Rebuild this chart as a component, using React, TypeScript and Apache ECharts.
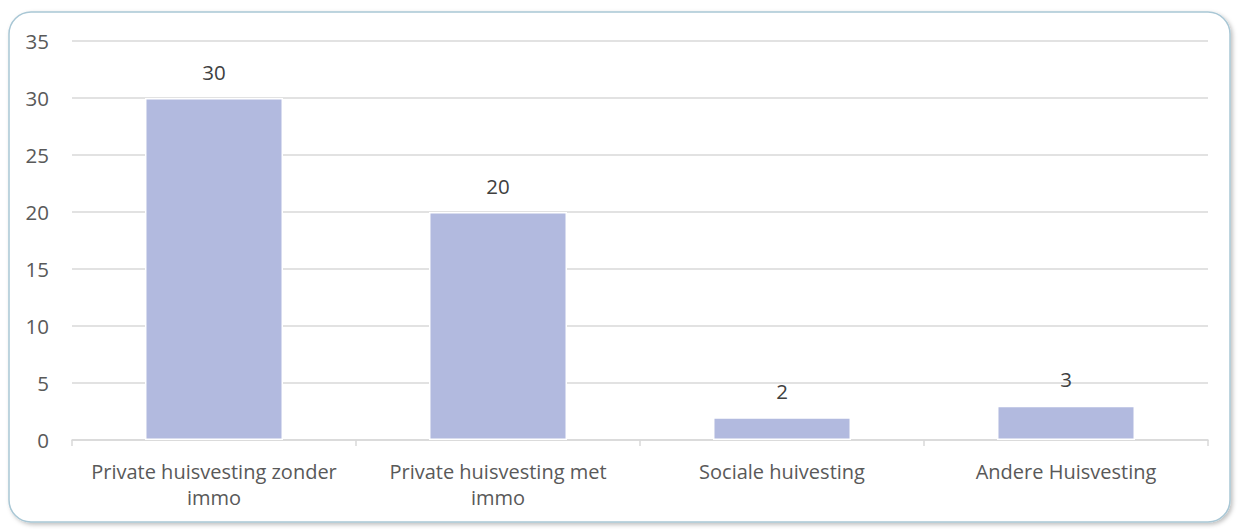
import React, { useEffect, useRef } from "react";
import * as echarts from "echarts";

const categories = [
  "Private huisvesting zonder immo",
  "Private huisvesting met immo",
  "Sociale huivesting",
  "Andere Huisvesting",
];
const values = [30, 20, 2, 3];
const wrapped: Record<string, string> = {
  "Private huisvesting zonder immo": "Private huisvesting zonder\nimmo",
  "Private huisvesting met immo": "Private huisvesting met\nimmo",
};

export default function App() {
  const ref = useRef<HTMLDivElement>(null);
  useEffect(() => {
    if (!ref.current) return;
    const chart = echarts.init(ref.current, null, { renderer: "svg" });
    const font = "'Open Sans', 'Noto Sans', sans-serif";
    chart.setOption({
      animation: false,
      backgroundColor: "#ffffff",
      textStyle: { fontFamily: font },
      graphic: [
        {
          type: "rect",
          shape: { x: 9, y: 12, width: 1221, height: 510, r: 22 },
          style: {
            fill: "#ffffff",
            stroke: "#A9C7D5",
            lineWidth: 1.5,
            shadowBlur: 4,
            shadowOffsetX: 2,
            shadowOffsetY: 2,
            shadowColor: "rgba(0,0,0,0.25)",
          },
          z: -10,
          silent: true,
        },
      ],
      grid: { left: 72, right: 31, top: 41, bottom: 89, containLabel: false },
      xAxis: {
        type: "category",
        data: categories,
        axisLine: { lineStyle: { color: "#D9D9D9", width: 1.5 } },
        axisTick: { show: true, length: 6, lineStyle: { color: "#D9D9D9", width: 1.5 } },
        axisLabel: {
          color: "#595959",
          fontSize: 20,
          fontFamily: font,
          margin: 18,
          lineHeight: 26,
          interval: 0,
          formatter: (v: string) => wrapped[v] ?? v,
        },
      },
      yAxis: {
        type: "value",
        min: 0,
        max: 35,
        interval: 5,
        axisLine: { show: false },
        axisTick: { show: false },
        splitLine: { lineStyle: { color: "#D9D9D9", width: 1.5 } },
        axisLabel: { color: "#595959", fontSize: 20.5, fontFamily: font, margin: 23 },
      },
      series: [
        {
          type: "bar",
          data: values,
          barWidth: "48.6%",
          itemStyle: { color: "#B2BADF", borderColor: "#ffffff", borderWidth: 1.5 },
          label: {
            show: true,
            position: "top",
            distance: 16,
            color: "#404040",
            fontSize: 20.5,
            fontFamily: font,
          },
        },
      ],
    });
    return () => chart.dispose();
  }, []);
  return (
    <div
      ref={ref}
      style={{ position: "fixed", left: 0, top: 0, width: 1239, height: 529 }}
    />
  );
}
